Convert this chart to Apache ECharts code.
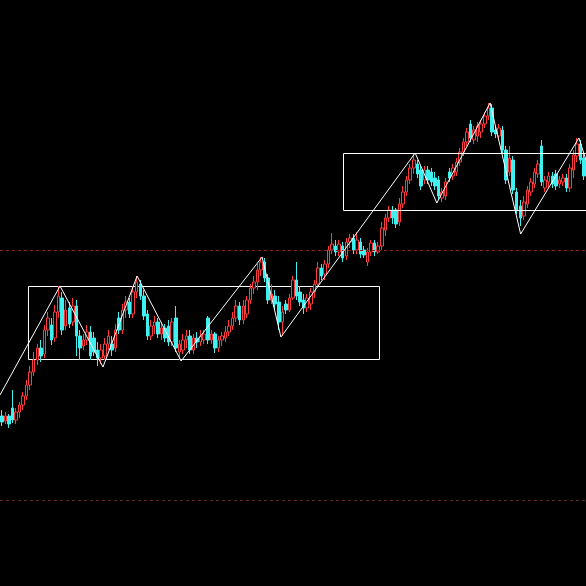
<!DOCTYPE html>
<html>
<head>
<meta charset="utf-8">
<script src="https://cdn.jsdelivr.net/npm/echarts@6/dist/echarts.min.js"></script>
<style>
html,body{margin:0;padding:0;background:#000;}
#chart{width:586px;height:586px;}
</style>
</head>
<body>
<div id="chart"></div>
<script>
// Candle values (price units)
const opens = [170,165,170,178,166,174,181,190,201,214,226,238,232,256,261,248,274,288,260,278,264,280,250,240,246,254,248,236,228,230,242,242,238,268,256,276,284,272,294,302,290,272,250,260,264,252,258,260,244,268,234,236,246,250,236,248,244,246,268,246,252,238,246,248,254,260,268,280,266,272,286,298,304,316,324,308,286,290,284,264,282,276,288,306,294,286,278,282,294,302,318,312,322,336,340,334,340,330,344,348,336,344,336,324,334,343,334,340,356,368,376,376,364,382,394,406,418,422,416,406,416,414,408,406,388,390,414,410,414,424,434,444,462,446,450,454,462,470,478,456,450,456,436,414,426,394,380,370,382,394,402,412,440,398,404,410,412,402,404,408,398,416,430,442,428];
const closes = [164,170,162,166,174,181,190,201,214,226,238,230,256,268,246,274,290,256,276,262,280,250,238,246,254,230,234,228,236,242,250,236,256,256,276,284,272,294,304,290,270,250,260,264,252,258,248,244,264,238,242,246,250,236,248,244,250,252,246,252,238,246,250,254,260,268,280,266,280,286,298,304,316,324,308,286,292,282,264,274,276,288,306,290,284,278,288,294,302,318,310,322,336,342,334,342,328,344,348,336,346,332,331,334,343,334,340,358,368,376,368,362,382,394,406,418,426,412,400,416,406,404,400,390,394,404,408,418,424,434,444,454,448,456,460,462,470,478,454,452,458,436,406,428,396,376,368,384,396,404,414,422,404,406,410,402,400,406,408,398,418,431,442,426,410];
const highs = [176,174,172,196,178,184,194,206,220,234,242,246,261,274,268,281,300,294,286,284,288,286,256,252,261,260,254,244,242,248,256,250,262,274,282,290,288,300,310,306,296,276,266,270,268,264,262,266,268,280,246,252,256,256,252,254,256,256,270,256,254,250,254,260,266,274,286,284,286,290,302,310,322,329,328,312,302,296,290,280,286,292,310,324,300,292,292,298,306,324,322,326,340,353,346,346,344,348,352,352,354,348,340,338,346,346,344,364,372,380,380,378,388,400,410,422,433,426,420,420,420,418,414,410,398,408,418,422,428,438,448,458,466,460,464,466,474,483,482,460,462,460,440,440,430,398,386,390,400,408,418,426,446,410,414,414,416,410,412,412,422,436,448,446,432];
const lows = [160,162,158,163,162,168,176,186,196,210,221,224,228,250,241,244,268,251,256,258,260,230,226,236,241,226,230,220,222,226,236,230,234,252,252,268,268,268,288,286,266,246,246,252,248,246,244,240,240,234,226,232,238,232,232,238,240,242,242,242,233,234,240,244,250,256,264,261,262,268,282,292,296,310,304,282,282,276,256,250,272,274,286,286,280,272,274,276,288,298,306,306,318,332,330,330,324,326,338,332,332,328,328,320,330,330,332,336,350,364,362,358,360,378,390,402,412,408,396,402,402,400,396,386,384,386,404,406,410,420,430,440,444,442,444,448,458,466,450,448,446,432,402,410,392,372,360,366,378,390,398,408,400,394,398,398,396,398,400,394,394,408,424,422,406];

// Zigzag turning points: [candle index, price]
const zigzagX = [-0.5, 16.4, 28.5, 38.1, 50.5, 73.3, 78.6, 116.4, 122.5, 137.5, 146.1, 162.5, 164.5];
const zigzagY = [191, 300, 219, 310, 225, 329, 249, 433, 383, 483, 352, 448, 426];

// Boxes: [left index, right index, top price, bottom price]
const box1 = [7.52, 106.36, 299.5, 226.5];
const box2 = [96.22, 175, 432.5, 375.5]; // runs off the right edge

// Horizontal dashed levels (price)
const levels = [335.5, 85.5];

const N = opens.length;
const candleData = opens.map((o, i) => [i, o, closes[i], lows[i], highs[i]]);
const zigzag = zigzagX.map((x, i) => [x, zigzagY[i]]);
const box2Path = [[box2[1], box2[2]], [box2[0], box2[2]], [box2[0], box2[3]], [box2[1], box2[3]]];

const chart = echarts.init(document.getElementById('chart'), null, {renderer: 'canvas'});
chart.setOption({
  backgroundColor: '#000000',
  animation: false,
  grid: {left: 0, right: 0, top: 0, bottom: 0},
  xAxis: {type: 'value', min: -0.5, max: N - 0.5, show: false, splitLine: {show: false}},
  yAxis: {type: 'value', min: 0, max: 586, show: false, splitLine: {show: false}},
  series: [
    {
      type: 'candlestick',
      data: candleData,
      encode: {x: 0, y: [1, 2, 3, 4]},
      barWidth: 3,
      itemStyle: {
        color: '#000000',
        borderColor: '#ff3c3c',
        color0: '#3ff0f0',
        borderColor0: '#3ff0f0',
        borderWidth: 1
      },
      markLine: {
        silent: true,
        symbol: ['none', 'none'],
        label: {show: false},
        data: [
          {yAxis: levels[0], lineStyle: {color: '#8a2424', type: [3, 3], width: 1}},
          {yAxis: levels[1], lineStyle: {color: '#5a2a2a', type: [3, 3], width: 1}}
        ]
      },
      markArea: {
        silent: true,
        itemStyle: {color: 'rgba(0,0,0,0)', borderColor: '#ffffff', borderWidth: 1},
        data: [
          [{xAxis: box1[0], yAxis: box1[2]}, {xAxis: box1[1], yAxis: box1[3]}]
        ]
      }
    },
    {
      type: 'line',
      data: box2Path,
      showSymbol: false,
      symbol: 'none',
      clip: true,
      lineStyle: {color: '#ffffff', width: 1},
      z: 4
    },
    {
      type: 'line',
      data: zigzag,
      showSymbol: false,
      symbol: 'none',
      clip: true,
      lineStyle: {color: '#ffffff', width: 1},
      z: 5
    }
  ]
});
</script>
</body>
</html>
